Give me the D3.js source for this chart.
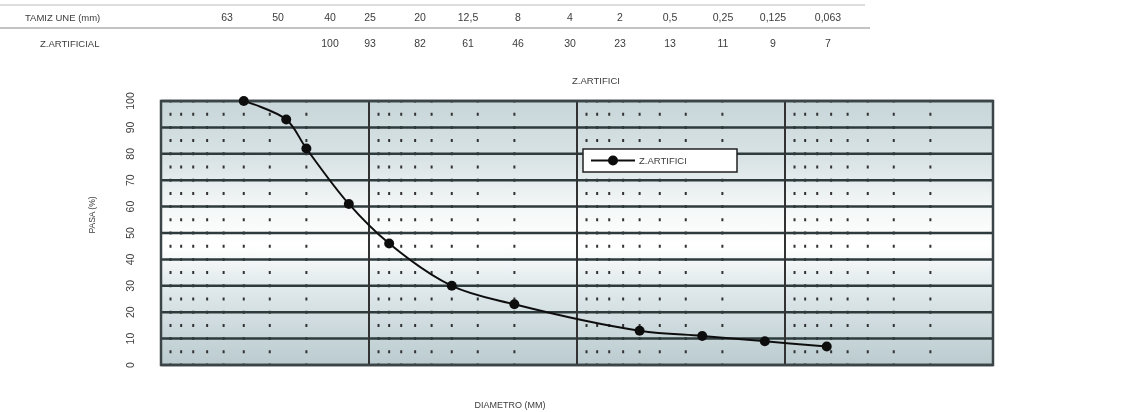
<!DOCTYPE html>
<html>
<head>
<meta charset="utf-8">
<script src="https://cdn.jsdelivr.net/npm/d3@7"></script>
<style>
  body { margin: 0; background: #fff; }
  text { font-family: "Liberation Sans", Arial, sans-serif; fill: #3c3c3c; }
</style>
</head>
<body>
<div id="chart"></div>
<script>
// sieve table
const sieveLabels = ["63", "50", "40", "25", "20", "12,5", "8", "4", "2", "0,5", "0,25", "0,125", "0,063"];
const sieveCols = [227, 278, 330, 370, 420, 468, 518, 570, 620, 670, 723, 773, 828];
const passLabels = ["", "", "100", "93", "82", "61", "46", "30", "23", "13", "11", "9", "7"];

// curve data
const sizes = [40, 25, 20, 12.5, 8, 4, 2, 0.5, 0.25, 0.125, 0.063];
const passing = [100, 93, 82, 61, 46, 30, 23, 13, 11, 9, 7];
const yTicks = [0, 10, 20, 30, 40, 50, 60, 70, 80, 90, 100];
const seriesName = "Z.ARTIFICI";

const W = 1134, H = 412;
const plot = {left: 161, right: 993, top: 101, bottom: 365};

const svg = d3.select("#chart").append("svg")
    .attr("width", W).attr("height", H);

const defs = svg.append("defs");
const grad = defs.append("linearGradient").attr("id", "bg")
    .attr("x1", 0).attr("y1", 0).attr("x2", 0).attr("y2", 1);
[[0, "#c8d6d9"], [0.22, "#d9e3e5"], [0.4, "#f4f7f7"], [0.55, "#ffffff"], [0.68, "#e4ecee"], [1, "#bacbcf"]]
    .forEach(s => grad.append("stop").attr("offset", s[0]).attr("stop-color", s[1]));
defs.append("filter").attr("id", "soft")
    .append("feGaussianBlur").attr("stdDeviation", 0.45);

const g = svg.append("g").attr("filter", "url(#soft)");

// ---- table at the top
g.append("line").attr("x1", 0).attr("x2", 865).attr("y1", 5).attr("y2", 5)
    .attr("stroke", "#bbb").attr("stroke-width", 1);
g.append("line").attr("x1", 0).attr("x2", 870).attr("y1", 28).attr("y2", 28)
    .attr("stroke", "#888").attr("stroke-width", 1);
g.append("text").attr("x", 25).attr("y", 21).attr("font-size", 9.5).text("TAMIZ UNE (mm)");
g.append("text").attr("x", 40).attr("y", 47).attr("font-size", 9.5).text("Z.ARTIFICIAL");
g.selectAll(".sv").data(sieveLabels).enter().append("text")
    .attr("x", (d, i) => sieveCols[i]).attr("y", 21)
    .attr("text-anchor", "middle").attr("font-size", 10.5).text(d => d);
g.selectAll(".ps").data(passLabels).enter().append("text")
    .attr("x", (d, i) => sieveCols[i]).attr("y", 47)
    .attr("text-anchor", "middle").attr("font-size", 10.5).text(d => d);

// ---- scales
const x = d3.scaleLog().domain([100, 0.01]).range([plot.left, plot.right]);
const y = d3.scaleLinear().domain([0, 100]).range([plot.bottom, plot.top]);

g.append("rect")
    .attr("x", plot.left).attr("y", plot.top)
    .attr("width", plot.right - plot.left).attr("height", plot.bottom - plot.top)
    .attr("fill", "url(#bg)");

// minor vertical lines (dotted)
const minor = [];
[-2, -1, 0, 1].forEach(k => { for (let m = 2; m <= 9; m++) minor.push(m * Math.pow(10, k)); });
g.selectAll(".minor").data(minor).enter().append("line")
    .attr("x1", d => x(d)).attr("x2", d => x(d))
    .attr("y1", plot.top).attr("y2", plot.bottom)
    .attr("stroke", "#333").attr("stroke-width", 2)
    .attr("stroke-dasharray", "3,10.2").attr("stroke-dashoffset", 1.5);

// horizontal lines
g.selectAll(".hl").data(yTicks).enter().append("line")
    .attr("x1", plot.left).attr("x2", plot.right)
    .attr("y1", d => y(d)).attr("y2", d => y(d))
    .attr("stroke", "#2f3b3c").attr("stroke-width", 2.5);

// decade lines
g.selectAll(".dec").data([10, 1, 0.1]).enter().append("line")
    .attr("x1", d => x(d)).attr("x2", d => x(d))
    .attr("y1", plot.top).attr("y2", plot.bottom)
    .attr("stroke", "#333").attr("stroke-width", 2);

// frame
g.append("rect")
    .attr("x", plot.left).attr("y", plot.top)
    .attr("width", plot.right - plot.left).attr("height", plot.bottom - plot.top)
    .attr("fill", "none").attr("stroke", "#3a4546").attr("stroke-width", 2.5);

// y tick labels (rotated)
g.selectAll(".yt").data(yTicks).enter().append("text")
    .attr("transform", d => `translate(134,${y(d)}) rotate(-90)`)
    .attr("text-anchor", "middle").attr("font-size", 10.5).text(d => d);

g.append("text")
    .attr("transform", "translate(95,215) rotate(-90)")
    .attr("text-anchor", "middle").attr("font-size", 8.5).text("PASA (%)");

g.append("text").attr("x", 510).attr("y", 408)
    .attr("text-anchor", "middle").attr("font-size", 9).text("DIAMETRO (MM)");

g.append("text").attr("x", 596).attr("y", 84)
    .attr("text-anchor", "middle").attr("font-size", 9.5).text(seriesName);

// ---- series
const pts = sizes.map((s, i) => ({s: s, v: passing[i]}));
const line = d3.line().x(d => x(d.s)).y(d => y(d.v)).curve(d3.curveCatmullRom.alpha(0.5));
g.append("path").datum(pts).attr("d", line)
    .attr("fill", "none").attr("stroke", "#111").attr("stroke-width", 2);
g.selectAll(".pt").data(pts).enter().append("circle")
    .attr("cx", d => x(d.s)).attr("cy", d => y(d.v)).attr("r", 5)
    .attr("fill", "#111");

// legend
const lg = g.append("g").attr("transform", "translate(583,149)");
lg.append("rect").attr("width", 154).attr("height", 23)
    .attr("fill", "#fff").attr("stroke", "#222").attr("stroke-width", 1.5);
lg.append("line").attr("x1", 8).attr("x2", 52).attr("y1", 11.5).attr("y2", 11.5)
    .attr("stroke", "#111").attr("stroke-width", 2);
lg.append("circle").attr("cx", 30).attr("cy", 11.5).attr("r", 5).attr("fill", "#111");
lg.append("text").attr("x", 56).attr("y", 15).attr("font-size", 9.5).text(seriesName);
</script>
</body>
</html>
